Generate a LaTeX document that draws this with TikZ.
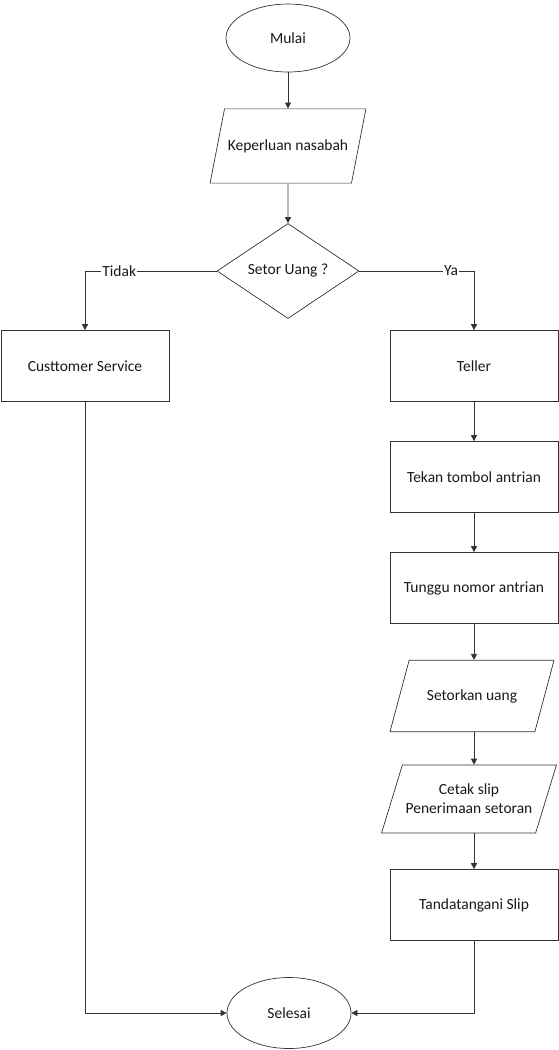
\documentclass[tikz,border=0pt]{standalone}
\usepackage{fontspec}
\setmainfont{Carlito}
\usetikzlibrary{shapes.geometric}
\usetikzlibrary{arrows.meta}
\tikzset{x=1pt, y=-1pt,
every node/.style={font=\fontsize{15.5}{19}\selectfont, text=black!90},
terminal/.style={ % Start and end
ellipse, draw, minimum width=124pt, minimum height=68pt},
inout/.style={ % Input and output
trapezium, draw, trapezium stretches body=true, inner ysep=29pt, align=center},
process/.style={ % Steps
rectangle, draw, minimum width=168pt, minimum height=71pt},
decision/.style={ % Question
diamond, draw, inner sep=0pt, minimum width=142pt, minimum height=95pt},
every edge/.style={ % Sets the properties for each connector
draw,
-{Triangle[length=6pt,width=6pt]},
line width=0.7pt}}

\begin{document}
\begin{tikzpicture}[line width=0.7pt, draw=black!80]
\useasboundingbox (0,0) rectangle (559,1050);
\node[terminal] (mulai) at (288,38) {Mulai};
\node[inout, trapezium left angle=79, trapezium right angle=101, minimum width=142pt, inner ysep=30.5pt] (keperluan) at (288,146) {Keperluan nasabah};
\node[decision] (setor) at (288,271) {Setor Uang ?};
\node[process] (cs) at (85,366) {Custtomer Service};
\node[process] (teller) at (474,366) {Teller};
\node[process] (tekan) at (474,477) {Tekan tombol antrian};
\node[process] (tunggu) at (474,588) {Tunggu nomor antrian};
\node[inout, trapezium left angle=75, trapezium right angle=105, minimum width=164pt] (setorkan) at (472,696) {Setorkan uang};
\node[inout, trapezium left angle=73, trapezium right angle=107, minimum width=164pt, inner ysep=19pt] (cetak) at (469,799) {Cetak slip\\Penerimaan setoran};
\node[process] (tanda) at (474,905) {Tandatangani Slip};
\node[terminal, minimum height=71pt] (selesai) at (289,1013) {Selesai};
\draw (mulai) edge (keperluan) ;
\draw (keperluan) edge (setor) ;
\draw (setor.west) edge[to path={-| (\tikztotarget) \tikztonodes}] node[pos=0.37, fill=white, inner sep=1pt] {Tidak} (cs.north) ;
\draw (setor.east) edge[to path={-| (\tikztotarget) \tikztonodes}] node[pos=0.4, fill=white, inner sep=1pt] {Ya} (teller.north) ;
\draw (teller) edge (tekan) ;
\draw (tekan) edge (tunggu) ;
\draw (tunggu) edge (tunggu |- setorkan.north) ;
\draw (tunggu |- setorkan.south) edge (tunggu |- cetak.north) ;
\draw (tunggu |- cetak.south) edge (tanda) ;
\draw (cs.south) edge[to path={|- (\tikztotarget)}] (selesai.west) ;
\draw (tanda.south) edge[to path={|- (\tikztotarget)}] (selesai.east) ;
\end{tikzpicture}
\end{document}
